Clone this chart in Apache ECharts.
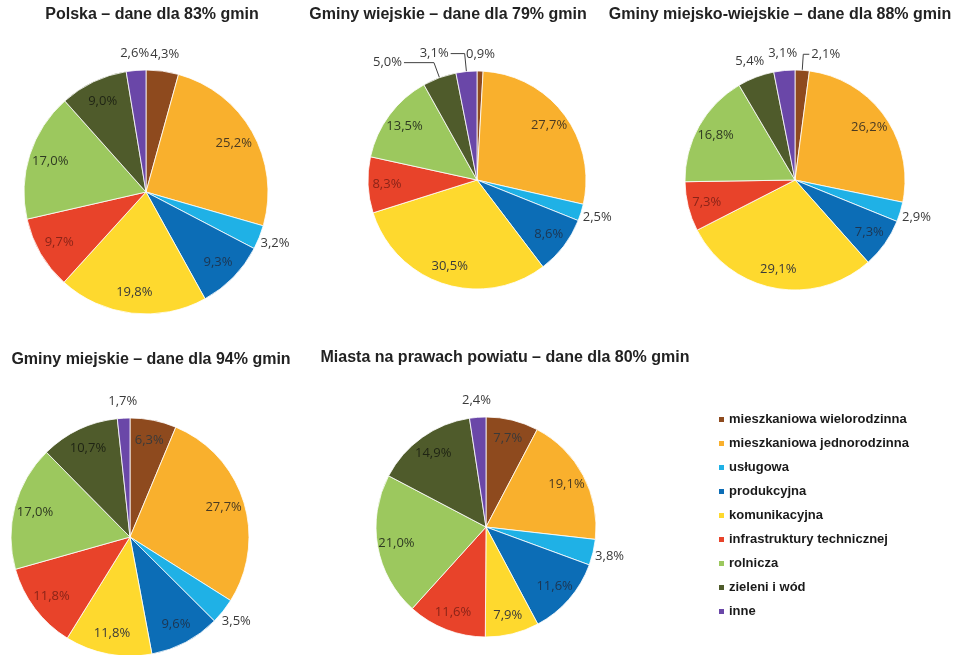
<!DOCTYPE html>
<html>
<head>
<meta charset="utf-8">
<script src="https://cdn.jsdelivr.net/npm/echarts@6/dist/echarts.min.js"></script>
<style>
  html, body { margin: 0; padding: 0; background: #ffffff; }
  #chart { width: 956px; height: 655px; }
</style>
</head>
<body>
<div id="chart"></div>
<script>
// Land-use categories (legend order, clockwise from 12 o'clock)
const categories = [
  'mieszkaniowa wielorodzinna',
  'mieszkaniowa jednorodzinna',
  'usługowa',
  'produkcyjna',
  'komunikacyjna',
  'infrastruktury technicznej',
  'rolnicza',
  'zieleni i wód',
  'inne'
];

const chartTitles = [
  'Polska – dane dla 83% gmin',
  'Gminy wiejskie – dane dla 79% gmin',
  'Gminy miejsko-wiejskie – dane dla 88% gmin',
  'Gminy miejskie – dane dla 94% gmin',
  'Miasta na prawach powiatu – dane dla 80% gmin'
];

// Shares in percent, in category order
const polska               = [4.3, 25.2, 3.2, 9.3, 19.8, 9.7, 17.0, 9.0, 2.6];
const gminyWiejskie        = [0.9, 27.7, 2.5, 8.6, 30.5, 8.3, 13.5, 5.0, 3.1];
const gminyMiejskoWiejskie = [2.1, 26.2, 2.9, 7.3, 29.1, 7.3, 16.8, 5.4, 3.1];
const gminyMiejskie        = [6.3, 27.7, 3.5, 9.6, 11.8, 11.8, 17.0, 10.7, 1.7];
const miasta               = [7.7, 19.1, 3.8, 11.6, 7.9, 11.6, 21.0, 14.9, 2.4];

// ---- styling ----
const sliceColors = ['#8e4a1e', '#f9b02d', '#1fb1e6', '#0c6db6', '#fed92e', '#e8432a', '#9cc85e', '#4f5b2b', '#6a47a8'];
const valueColors = ['#3a3a3a', '#4a3a22', '#3a3a3a', '#1d3652', '#3a3a3a', '#8a2418', '#2f3a22', '#1f2414', '#3a3a3a'];
const valueFont = { fontFamily: '"Open Sans", sans-serif', fontSize: 13 };

const panels = [
  { values: polska,               center: [146, 192], r: 122, titleX: 152, titleY: 7 },
  { values: gminyWiejskie,        center: [477, 180], r: 109, titleX: 448, titleY: 7 },
  { values: gminyMiejskoWiejskie, center: [795, 180], r: 110, titleX: 780, titleY: 7 },
  { values: gminyMiejskie,        center: [130, 537], r: 119, titleX: 151, titleY: 352 },
  { values: miasta,               center: [486, 527], r: 110, titleX: 505, titleY: 350 }
];

// Labels drawn with a leader line: panel index -> category index -> line lengths
const leaderLabels = {
  1: { 7: { length: 16, length2: 30 }, 8: { length: 18, length2: 14 } },
  2: { 0: { length: 16, length2: 6 } }
};

const smallShare = 6;   // shares below this get their label outside the pie
const fmt = v => v.toFixed(1).replace('.', ',') + '%';

const series = [];
panels.forEach((p, pi) => {
  const leaders = leaderLabels[pi] || {};
  const base = {
    type: 'pie',
    center: p.center,
    startAngle: 90,
    clockwise: true,
    avoidLabelOverlap: false,
    minShowLabelAngle: 0,
    animation: false,
    emphasis: { disabled: true }
  };

  // coloured slices
  series.push(Object.assign({}, base, {
    radius: p.r,
    itemStyle: { borderColor: '#ffffff', borderWidth: 0.8 },
    label: { show: false },
    labelLine: { show: false },
    data: p.values.map((v, i) => {
      const item = { name: categories[i], value: v, itemStyle: { color: sliceColors[i] } };
      const ld = leaders[i];
      if (ld) {
        item.label = Object.assign({
          show: true, position: 'outside', formatter: fmt(v),
          color: '#3a3a3a', distanceToLabelLine: 2
        }, valueFont);
        item.labelLine = {
          show: true, length: ld.length, length2: ld.length2, smooth: false,
          lineStyle: { color: '#404040', width: 1 }
        };
      }
      return item;
    })
  }));

  // value labels inside the larger slices
  series.push(Object.assign({}, base, {
    radius: [p.r * 0.6, p.r],
    silent: true,
    itemStyle: { color: 'rgba(0,0,0,0)', borderWidth: 0 },
    labelLine: { show: false },
    data: p.values.map((v, i) => ({
      name: categories[i], value: v,
      label: Object.assign({
        show: v >= smallShare, position: 'inside', formatter: fmt(v), color: valueColors[i]
      }, valueFont)
    }))
  }));

  // value labels just outside the small slices
  series.push(Object.assign({}, base, {
    radius: [p.r, p.r + 28],
    silent: true,
    itemStyle: { color: 'rgba(0,0,0,0)', borderWidth: 0 },
    labelLine: { show: false },
    data: p.values.map((v, i) => ({
      name: categories[i], value: v,
      label: Object.assign({
        show: v < smallShare && !leaders[i], position: 'inside', formatter: fmt(v), color: '#3a3a3a'
      }, valueFont)
    }))
  }));
});

const chart = echarts.init(document.getElementById('chart'), null, { renderer: 'canvas' });
chart.setOption({
  backgroundColor: '#ffffff',
  animation: false,
  title: panels.map((p, i) => ({
    text: chartTitles[i],
    left: p.titleX,
    top: p.titleY,
    textAlign: 'center',
    padding: 0,
    textStyle: { fontFamily: '"Liberation Sans", Arial, sans-serif', fontSize: 16, fontWeight: 'bold', color: '#222222' }
  })),
  legend: {
    orient: 'vertical',
    left: 717,
    top: 413,
    padding: 0,
    icon: 'rect',
    itemWidth: 7,
    itemHeight: 7,
    itemGap: 11,
    selectedMode: false,
    data: categories,
    textStyle: { fontFamily: '"Liberation Sans", Arial, sans-serif', fontSize: 13, fontWeight: 'bold', color: '#1a1a1a', padding: [0, 0, 0, -1] }
  },
  series: series
});
</script>
</body>
</html>
